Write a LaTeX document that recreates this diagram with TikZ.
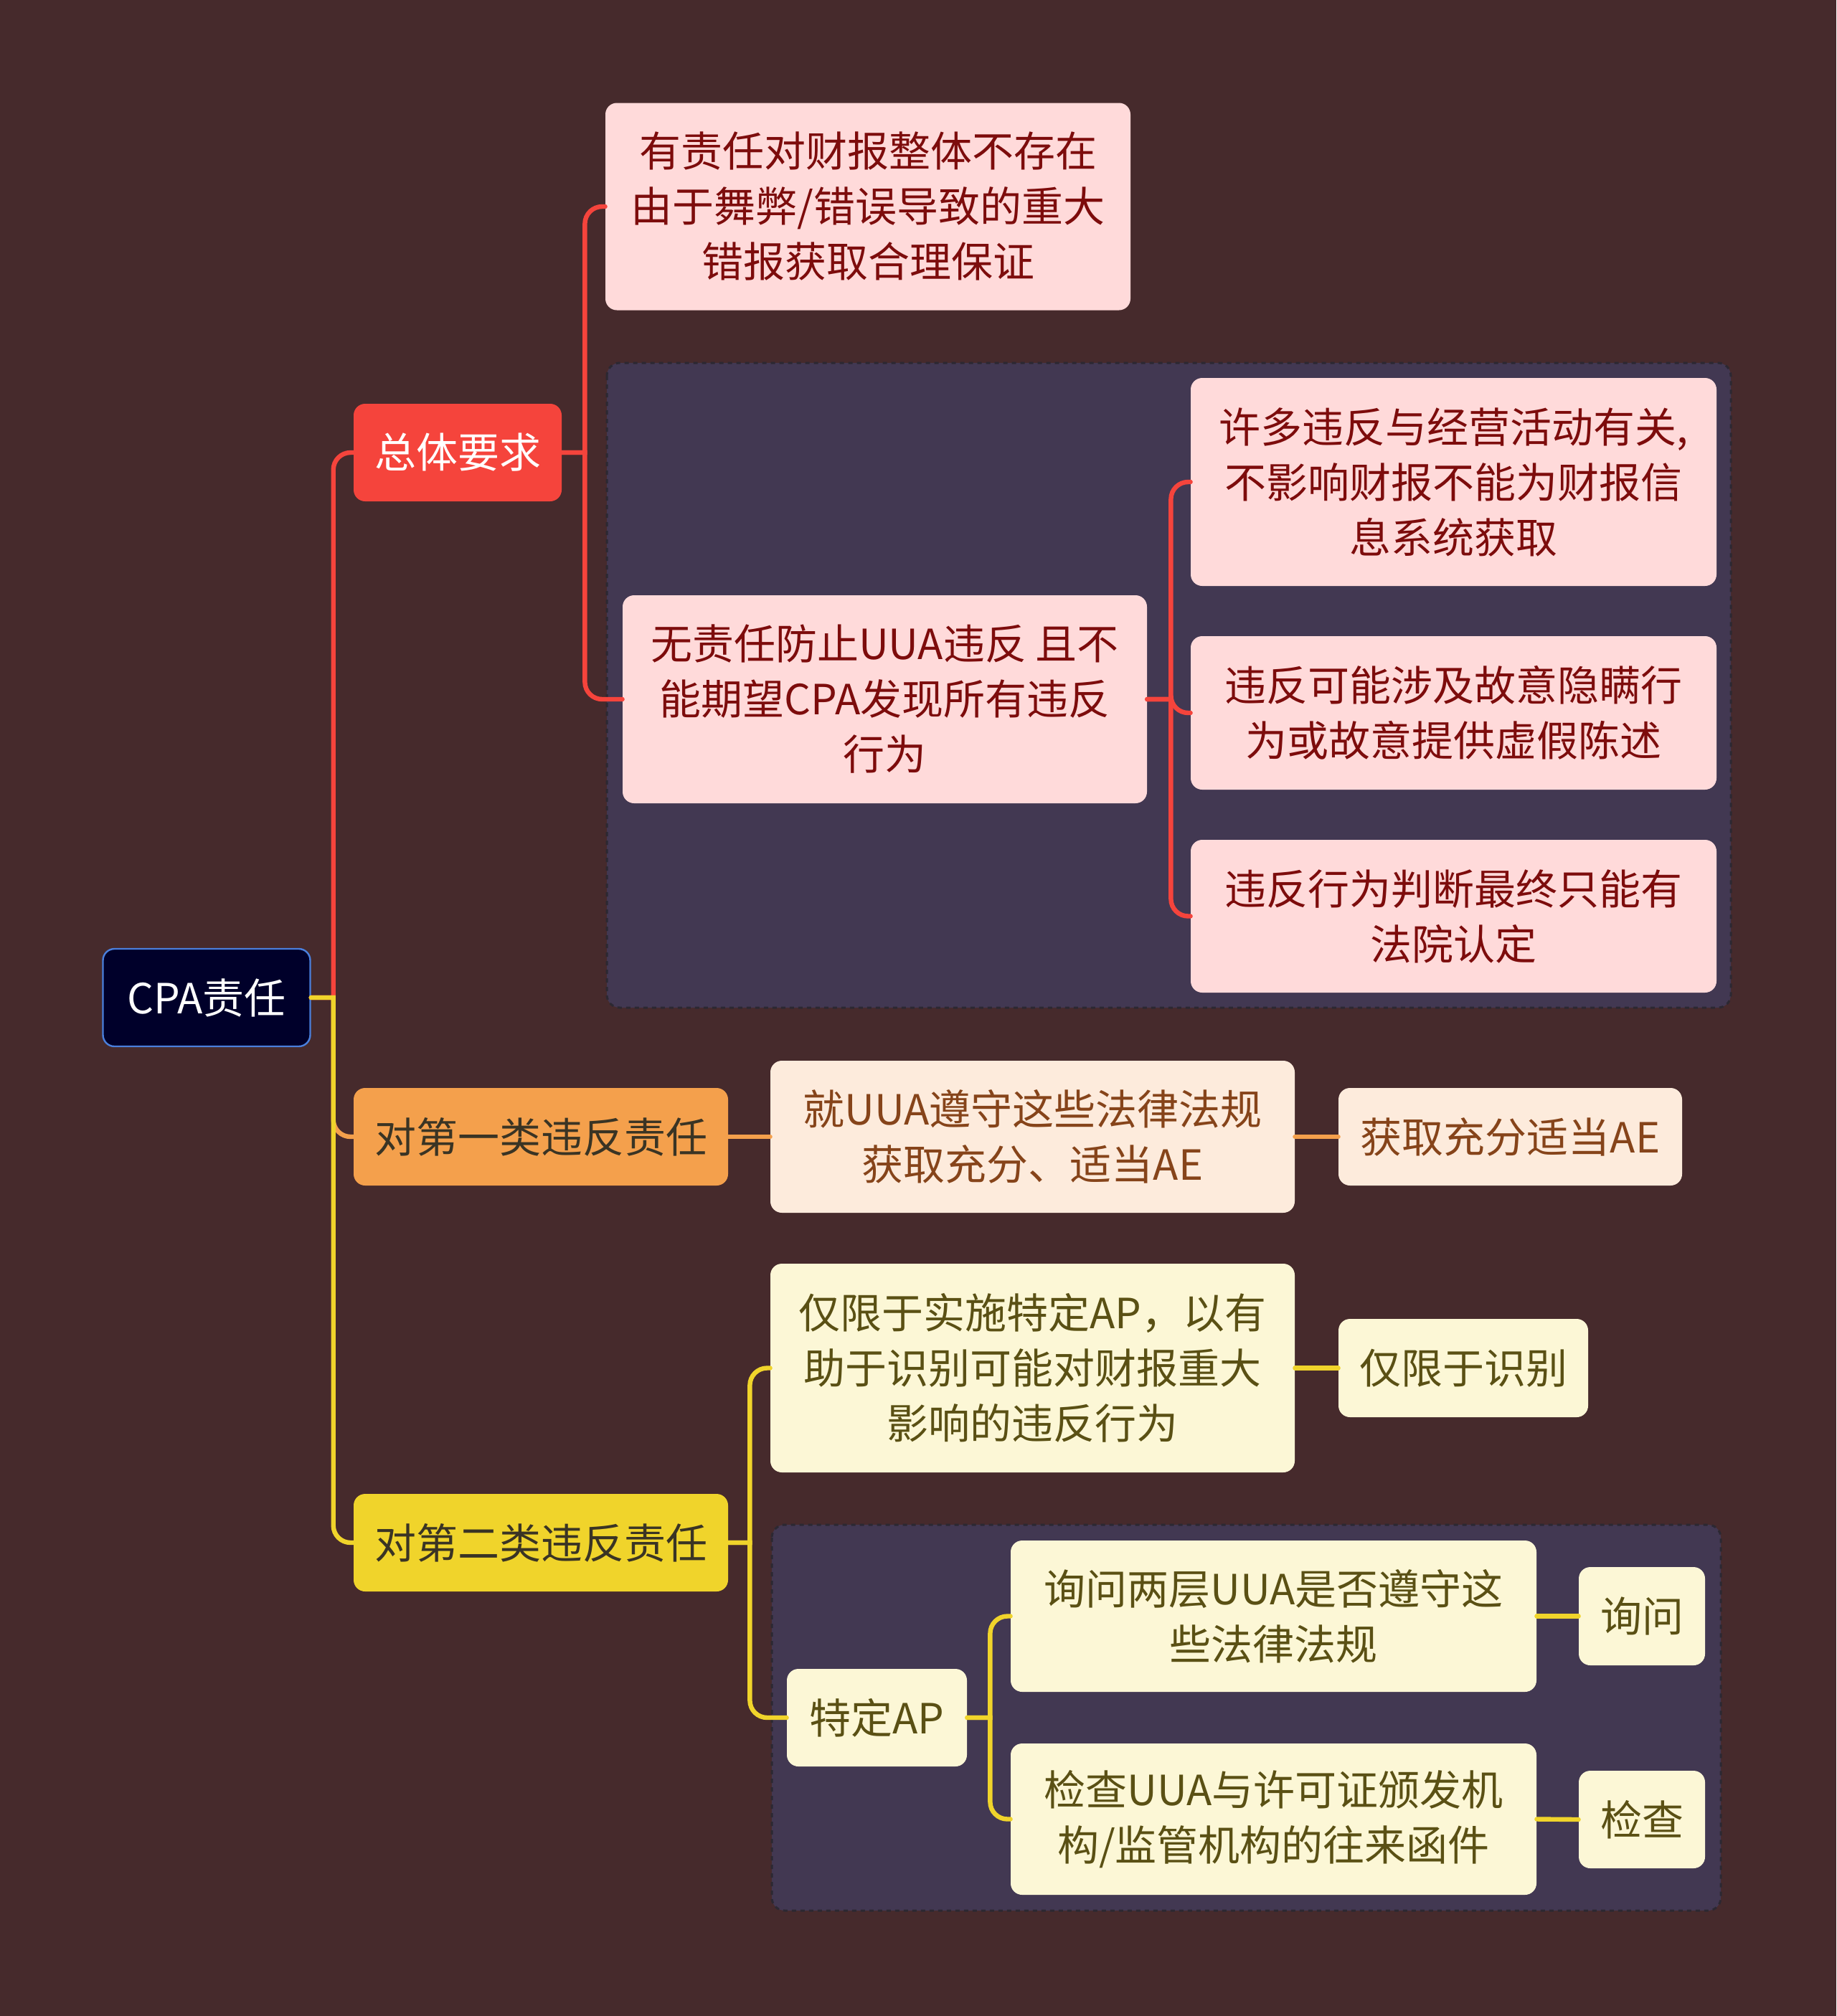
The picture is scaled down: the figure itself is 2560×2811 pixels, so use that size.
\documentclass[tikz,border=0pt]{standalone}
\usepackage{fontspec}
\setmainfont{Noto Sans CJK SC}
\definecolor{bg}{HTML}{462A2C}
\definecolor{grp}{HTML}{423852}
\definecolor{grpb}{HTML}{2C2832}
\definecolor{rootf}{HTML}{00002A}
\definecolor{rootb}{HTML}{4A7FDC}
\definecolor{cred}{HTML}{F5443C}
\definecolor{pinkf}{HTML}{FFDADA}
\definecolor{pinkt}{HTML}{7D0C0C}
\definecolor{corange}{HTML}{F4A04C}
\definecolor{peachf}{HTML}{FDEBDC}
\definecolor{peacht}{HTML}{86441A}
\definecolor{cyellow}{HTML}{F0D42B}
\definecolor{lyf}{HTML}{FCF7D6}
\definecolor{lyt}{HTML}{5A5014}
\definecolor{darkt}{HTML}{3A3424}
\begin{document}
\begin{tikzpicture}[x=0.5pt,y=-0.5pt,
  box/.style={rounded corners=8pt, align=center, inner sep=0pt,
    font=\fontsize{29}{38.5}\selectfont},
  rootbox/.style={box, fill=rootf, draw=rootb, line width=1.2pt, text=white},
  redbox/.style={box, fill=cred, text=white},
  pinkbox/.style={box, fill=pinkf, text=pinkt},
  orangebox/.style={box, fill=corange, text=darkt},
  peachbox/.style={box, fill=peachf, text=peacht},
  yellowbox/.style={box, fill=cyellow, text=darkt},
  lybox/.style={box, fill=lyf, text=lyt},
  group/.style={fill=grp, draw=grpb, dashed, line width=1.5pt, rounded corners=9pt},
  conn/.style={line width=3.2pt, line cap=round},
  redc/.style={conn, draw=cred},
  orangec/.style={conn, draw=corange},
  yellowc/.style={conn, draw=cyellow},
  sz/.style 2 args={minimum width=#1pt, minimum height=#2pt}
]
\useasboundingbox (0,0) rectangle (2560,2811);
\fill[bg] (0,0) rectangle (2560,2811);

% groups
\draw[group] (846,506) rectangle (2413,1405);
\draw[group] (1076,2126) rectangle (2399,2664);

% nodes
\node[rootbox, sz={144.5}{68}] (root) at (288,1391) {CPA责任};
\node[redbox, sz={145}{68}] (zt) at (638,631) {总体要求};
\node[pinkbox, sz={366}{144.5}] (n3) at (1210,288) {有责任对财报整体不存在\\由于舞弊/错误导致的重大\\错报获取合理保证};
\node[pinkbox, sz={365.5}{145}] (n5) at (1233.5,975) {无责任防止UUA违反 且不\\能期望CPA发现所有违反\\行为};
\node[pinkbox, sz={366.5}{145}] (n6) at (2026.5,672) {许多违反与经营活动有关,\\不影响财报不能为财报信\\息系统获取};
\node[pinkbox, sz={366.5}{107}] (n7) at (2026.5,994) {违反可能涉及故意隐瞒行\\为或故意提供虚假陈述};
\node[pinkbox, sz={366.5}{106.5}] (n8) at (2026.5,1277.5) {违反行为判断最终只能有\\法院认定};

\node[orangebox, sz={261}{68}] (d1) at (754,1585) {对第一类违反责任};
\node[peachbox, sz={365.5}{106}] (n10) at (1439.5,1585) {就UUA遵守这些法律法规\\获取充分、适当AE};
\node[peachbox, sz={239.5}{68}] (n11) at (2105.5,1585) {获取充分适当AE};

\node[yellowbox, sz={261}{68}] (d2) at (754,2151) {对第二类违反责任};
\node[lybox, sz={365.5}{145.5}] (n13) at (1439.5,1907.5) {仅限于实施特定AP，以有\\助于识别可能对财报重大\\影响的违反行为};
\node[lybox, sz={174}{68.5}] (n14) at (2040,1907.5) {仅限于识别};
\node[lybox, sz={125.5}{68}] (ap) at (1222.5,2395) {特定AP};
\node[lybox, sz={366.5}{105.5}] (n17) at (1775.5,2253.5) {询问两层UUA是否遵守这\\些法律法规};
\node[lybox, sz={366.5}{105.5}] (n18) at (1775.5,2536.5) {检查UUA与许可证颁发机\\构/监管机构的往来函件};
\node[lybox, sz={88}{68.5}] (xw) at (2289,2253.5) {询问};
\node[lybox, sz={88}{68}] (jc) at (2289,2537) {检查};

% connectors (drawn behind nodes)
\begin{scope}[on background layer/.try]
\end{scope}
\draw[redc] (root.east) -- ++(31,0) [rounded corners=12pt] |- (zt.west);
\draw[orangec] (root.east) -- ++(31,0) [rounded corners=12pt] |- (d1.west);
\draw[yellowc] (root.east) -- ++(31,0) [rounded corners=12pt] |- (d2.west);

\draw[redc] (zt.east) -- ++(32,0) [rounded corners=12pt] |- (n3.west);
\draw[redc] (zt.east) -- ++(32,0) [rounded corners=12pt] |- (n5.west);

\draw[redc] (n5.east) -- ++(33,0) [rounded corners=12pt] |- (n6.west);
\draw[redc] (n5.east) -- ++(33,0) [rounded corners=12pt] |- (n7.west);
\draw[redc] (n5.east) -- ++(33,0) [rounded corners=12pt] |- (n8.west);

\draw[orangec] (d1.east) -- (n10.west);
\draw[orangec] (n10.east) -- (n11.west);

\draw[yellowc] (d2.east) -- ++(30,0) [rounded corners=12pt] |- (n13.west);
\draw[yellowc] (d2.east) -- ++(30,0) [rounded corners=12pt] |- (ap.west);
\draw[yellowc] (n13.east) -- (n14.west);

\draw[yellowc] (ap.east) -- ++(32,0) [rounded corners=12pt] |- (n17.west);
\draw[yellowc] (ap.east) -- ++(32,0) [rounded corners=12pt] |- (n18.west);
\draw[yellowc] (n17.east) -- (xw.west);
\draw[yellowc] (n18.east) -- (jc.west);
\end{tikzpicture}
\end{document}
